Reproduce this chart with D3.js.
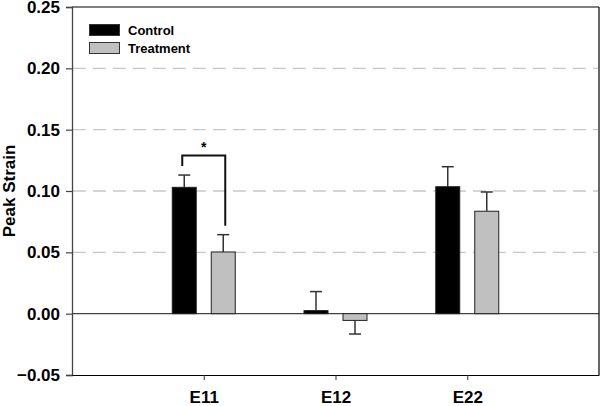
<!DOCTYPE html>
<html><head><meta charset="utf-8">
<script src="https://cdn.jsdelivr.net/npm/d3@7"></script>
<style>body{margin:0;background:#fff}svg{display:block}text{font-family:Arial,"Liberation Sans",sans-serif;font-weight:bold}</style>
</head><body><svg id="c" width="600" height="406"></svg>
<script>
const categories = ["E11","E12","E22"];
const seriesNames = ["Control","Treatment"];
const controlValues = [0.103, 0.0025, 0.1035];
const controlErrors = [0.010, 0.0155, 0.0163];
const treatmentValues = [0.0503, -0.0055, 0.0835];
const treatmentErrors = [0.0141, 0.0111, 0.0157];
const yTicks = [-0.05, 0, 0.05, 0.10, 0.15, 0.20, 0.25];
const gridValues = [0.05, 0.10, 0.15, 0.20];

const svg = d3.select("#c");
const L = 72, R = 599, T = 7, B = 375;
const x = d3.scaleLinear().domain([0, 4]).range([L, R]);
const y = d3.scaleLinear().domain([-0.05, 0.25]).range([B, T]);
const colors = ["#000000", "#c0c0c0"];
const offsets = [-19.5, 19.5];
const barW = 24;

svg.append("g").selectAll("line").data(gridValues).join("line")
  .attr("x1", L + 1).attr("x2", R - 1)
  .attr("y1", d => y(d)).attr("y2", d => y(d))
  .attr("stroke", "#c8c8c8").attr("stroke-width", 1.3).attr("stroke-dasharray", "13,7");

svg.append("line").attr("x1", L).attr("x2", R).attr("y1", y(0)).attr("y2", y(0))
  .attr("stroke", "#444").attr("stroke-width", 1.2);

svg.append("line").attr("x1", L).attr("x2", R).attr("y1", T).attr("y2", T).attr("stroke", "#000").attr("stroke-width", 1.2);
svg.append("line").attr("x1", R).attr("x2", R).attr("y1", T).attr("y2", B).attr("stroke", "#000").attr("stroke-width", 1.2);

const series = [
  {vals: controlValues, errs: controlErrors},
  {vals: treatmentValues, errs: treatmentErrors}
];

series.forEach((s, si) => {
  const g = svg.append("g");
  const data = categories.map((c, i) => ({i, v: s.vals[i], e: s.errs[i]}));
  data.forEach(d => {
    const cx = x(d.i + 1) + offsets[si];
    const end = d.v >= 0 ? d.v + d.e : d.v - d.e;
    g.append("line").attr("x1", cx).attr("x2", cx).attr("y1", y(d.v)).attr("y2", y(end))
      .attr("stroke", "#333").attr("stroke-width", 1.5);
    g.append("line").attr("x1", cx - 6).attr("x2", cx + 6).attr("y1", y(end)).attr("y2", y(end))
      .attr("stroke", "#333").attr("stroke-width", 1.5);
  });
  g.selectAll("rect").data(data).join("rect")
    .attr("x", d => x(d.i + 1) + offsets[si] - barW / 2)
    .attr("width", barW)
    .attr("y", d => y(Math.max(0, d.v)))
    .attr("height", d => Math.abs(y(d.v) - y(0)))
    .attr("fill", colors[si]).attr("stroke", "#222").attr("stroke-width", 1);
});

const bTop = 155.5;
const bx1 = x(1) + offsets[0] - 2, bx2 = x(1) + offsets[1] + 2;
svg.append("path")
  .attr("d", `M${bx1},${y(controlValues[0] + controlErrors[0]) - 9}V${bTop}H${bx2}V${y(treatmentValues[0] + treatmentErrors[0]) - 9}`)
  .attr("fill", "none").attr("stroke", "#111").attr("stroke-width", 2);
svg.append("text").attr("x", (bx1 + bx2) / 2).attr("y", 152).attr("text-anchor", "middle")
  .attr("font-size", 14).text("*");

const yAxis = svg.append("g").attr("transform", `translate(${L},0)`)
  .call(d3.axisLeft(y).tickValues(yTicks).tickFormat(d3.format(".2f")).tickSize(6).tickPadding(6));
yAxis.select(".domain").attr("stroke", "#444").attr("stroke-width", 1.3);
yAxis.selectAll(".tick line").attr("stroke", "#444").attr("stroke-width", 1.2);
yAxis.selectAll("text").attr("font-size", 17).attr("fill", "#000").attr("font-weight", "bold")
  .attr("font-family", "Arial, 'Liberation Sans', sans-serif");

const xAxis = svg.append("g").attr("transform", `translate(0,${B})`)
  .call(d3.axisBottom(x).tickValues([1, 2, 3]).tickFormat(d => categories[d - 1]).tickSize(5).tickSizeOuter(0).tickPadding(11));
xAxis.select(".domain").attr("stroke", "#000").attr("stroke-width", 1.2);
xAxis.selectAll(".tick line").attr("stroke", "#333");
xAxis.selectAll("text").attr("font-size", 17).attr("fill", "#000").attr("font-weight", "bold")
  .attr("font-family", "Arial, 'Liberation Sans', sans-serif");

svg.append("text").attr("transform", `translate(15,${(T + B) / 2}) rotate(-90)`)
  .attr("text-anchor", "middle").attr("font-size", 17).text("Peak Strain");

const lg = svg.append("g");
seriesNames.forEach((n, i) => {
  lg.append("rect").attr("x", 89.5).attr("y", 24.5 + i * 18).attr("width", 30).attr("height", 11)
    .attr("fill", colors[i]).attr("stroke", "#333").attr("stroke-width", 1);
  lg.append("text").attr("x", 128).attr("y", 35 + i * 18).attr("font-size", 13).text(n);
});
</script></body></html>
